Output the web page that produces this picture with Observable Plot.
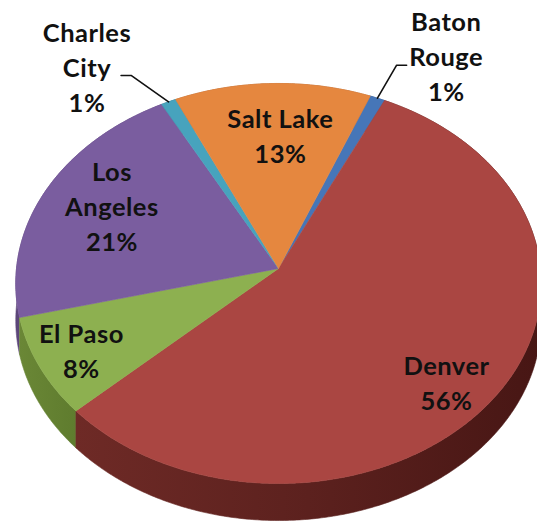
<!DOCTYPE html>
<html><head><meta charset="utf-8">
<script src="https://cdn.jsdelivr.net/npm/d3@7"></script>
<script src="https://cdn.jsdelivr.net/npm/@observablehq/plot@0.6"></script>
<style>html,body{margin:0;padding:0;background:#fff;overflow:hidden} svg text{letter-spacing:0.5px}</style>
</head><body><div id="chart"></div>
<script>
// ---- data (clockwise from the top) ----
const cities = ["Baton Rouge", "Denver", "El Paso", "Los Angeles", "Charles City", "Salt Lake"];
const labelNames = ["Baton\nRouge", "Denver", "El Paso", "Los\nAngeles", "Charles\nCity", "Salt Lake"];
const shares = [1, 56, 8, 21, 1, 13];

// ---- styles ----
const topColors = ["#4676B8", "#AA4642", "#8DB050", "#7A5D9F", "#47A3BD", "#E5873F"];
const sideFills = ["#2f5283", "url(#denverSide)", "url(#elpasoSide)", "#5c4679", "#2f7487", "#a85f2a"];

// ---- 3D view / layout ----
const startAngle = 22;      // degrees clockwise from the top
const k = 0.075;            // perspective strength
const depth = 0.186;        // thickness of the pie
const Rx = 262, Ry = 198.9, cx = 278, cy = 268, W = 537, H = 525;
const labelRadius = [1.36, 0.82, 0.83, 0.73, 1.36, 0.71];
const labelNudge = [7, 5, 0, 3, -9, 2];
const leaderNudge = [0, 0, 0, 0, -3.5, 0];
const outside = [true, false, false, false, true, false];
const tailDir = [1, 0, 0, 0, -1, 0];

const rad = d => d * Math.PI / 180;
function proj(theta, r, drop = 0) {
  const s = r * Math.sin(rad(theta)), c = r * Math.cos(rad(theta));
  const w = 1 + k * c;
  return [s / w, c / w - drop];
}

const total = d3.sum(shares);
let acc = 0;
const slices = cities.map((name, i) => {
  const a0 = startAngle + 360 * acc / total;
  acc += shares[i];
  const a1 = startAngle + 360 * acc / total;
  return {name, i, a0, a1, mid: (a0 + a1) / 2};
});

function arc(a0, a1, r, drop) {
  const n = Math.max(2, Math.ceil((a1 - a0) / 0.5));
  return d3.range(n + 1).map(j => proj(a0 + (a1 - a0) * j / n, r, drop));
}

const topPts = [], sidePts = [];
for (const sl of slices) {
  const pts = [[0, 0], ...arc(sl.a0, sl.a1, 1, 0), [0, 0]];
  pts.forEach(p => topPts.push({id: sl.name, x: p[0], y: p[1], fill: topColors[sl.i]}));
  const band = [...arc(sl.a0, sl.a1, 1, 0), ...arc(sl.a0, sl.a1, 1, depth).reverse()];
  band.forEach(p => sidePts.push({id: sl.name, x: p[0], y: p[1], fill: sideFills[sl.i]}));
}
// draw back sides first so front sides sit above them
const sideOrder = d3.sort(slices, s => -Math.cos(rad(s.mid))).map(s => s.name);

const labelData = slices.map(sl => {
  const [x, y] = proj(sl.mid + labelNudge[sl.i], labelRadius[sl.i]);
  return {x, y, text: `${labelNames[sl.i]}\n${shares[sl.i]}%`};
});

const leaderPts = [];
slices.filter(sl => outside[sl.i]).forEach(sl => {
  const p0 = proj(sl.mid, 1);
  const p1 = proj(sl.mid + leaderNudge[sl.i], 1.21);
  const p2 = [p1[0] + tailDir[sl.i] * 10 / Rx, p1[1]];
  [p0, p1, p2].forEach(p => leaderPts.push({id: sl.name, x: p[0], y: p[1]}));
});

const chart = Plot.plot({
  width: W, height: H, margin: 0,
  x: {domain: [-cx / Rx, (W - cx) / Rx], range: [0, W], axis: null},
  y: {domain: [(cy - H) / Ry, cy / Ry], range: [H, 0], axis: null},
  color: {type: "identity"},
  style: {background: "#fff"},
  marks: [
    ...sideOrder.map(name => Plot.line(sidePts.filter(d => d.id === name), {x: "x", y: "y", fill: "fill", stroke: "fill", strokeWidth: 0.6, curve: "linear"})),
    Plot.line(topPts, {x: "x", y: "y", z: "id", fill: "fill", stroke: "fill", strokeWidth: 0.6, curve: "linear"}),
    Plot.line(leaderPts, {x: "x", y: "y", z: "id", stroke: "#111", strokeWidth: 1.6}),
    Plot.text(labelData, {x: "x", y: "y", text: "text", fontSize: 25.5, fontWeight: "bold",
      fontFamily: "Lato, 'Open Sans', sans-serif", lineHeight: 1.37, lineAnchor: "middle", fill: "#111"})
  ]
});

const svg = d3.select(chart);
const defs = svg.insert("defs", ":first-child");
function grad(id, stops) {
  const g = defs.append("linearGradient").attr("id", id).attr("x1", "0").attr("x2", "1").attr("y1", "0").attr("y2", "0");
  stops.forEach(([o, c]) => g.append("stop").attr("offset", o).attr("stop-color", c));
}
grad("denverSide", [[0, "#6e2a26"], [0.5, "#5c211e"], [1, "#471614"]]);
grad("elpasoSide", [[0, "#6a8736"], [1, "#5f7c2e"]]);
document.getElementById("chart").appendChild(chart);
</script>
</body></html>
